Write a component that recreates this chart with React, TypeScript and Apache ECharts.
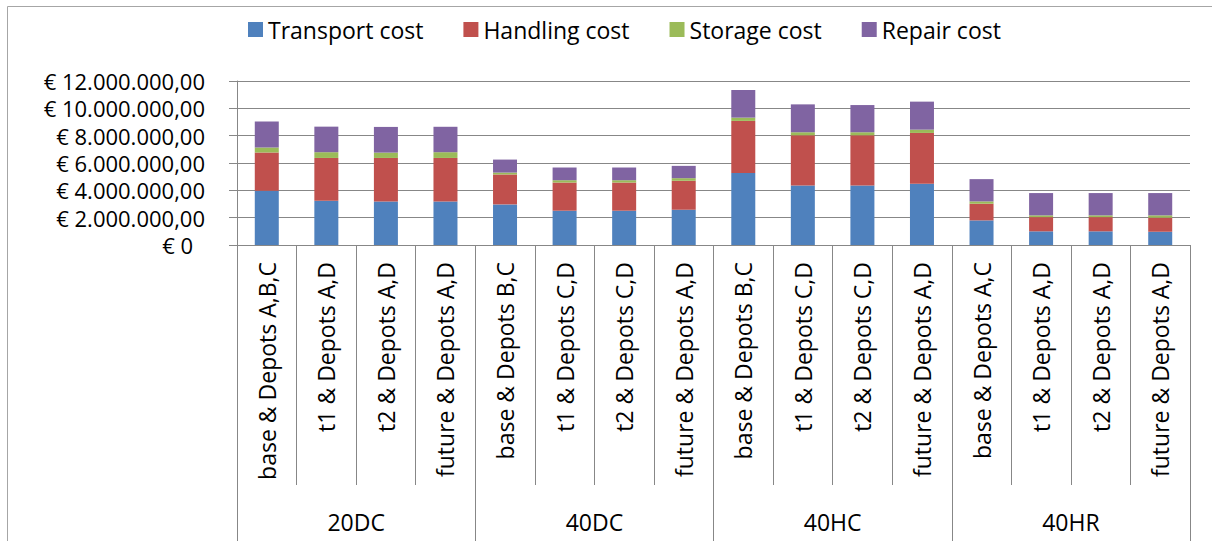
import React, { useEffect, useRef } from "react";
import * as echarts from "echarts";

const categories = [
  "base & Depots A,B,C", "t1 & Depots A,D", "t2 & Depots A,D", "future & Depots A,D",
  "base & Depots B,C", "t1 & Depots C,D", "t2 & Depots C,D", "future & Depots A,D",
  "base & Depots B,C", "t1 & Depots C,D", "t2 & Depots C,D", "future & Depots A,D",
  "base & Depots A,C", "t1 & Depots A,D", "t2 & Depots A,D", "future & Depots A,D",
];
const groups = ["20DC", "40DC", "40HC", "40HR"];

const transportCost = [3970000, 3240000, 3190000, 3190000, 2970000, 2510000, 2510000, 2580000, 5260000, 4360000, 4360000, 4480000, 1800000, 1000000, 1000000, 970000];
const handlingCost = [2790000, 3130000, 3180000, 3180000, 2190000, 2060000, 2060000, 2120000, 3820000, 3670000, 3670000, 3720000, 1220000, 1040000, 1040000, 1030000];
const storageCost = [370000, 420000, 390000, 420000, 140000, 170000, 170000, 190000, 240000, 220000, 220000, 240000, 170000, 130000, 130000, 170000];
const repairCost = [1900000, 1870000, 1880000, 1860000, 950000, 930000, 930000, 900000, 2020000, 2040000, 1990000, 2050000, 1630000, 1630000, 1630000, 1630000];

const seriesNames = ["Transport cost", "Handling cost", "Storage cost", "Repair cost"];
const seriesColors = ["#4F81BD", "#C0504D", "#9BBB59", "#8064A2"];

const FONT = "'Open Sans', sans-serif";
const AXIS_COLOR = "#878787";

function fmtEuro(v: number): string {
  if (v === 0) return "{z|€ 0}";
  const s = Math.round(v).toString();
  let out = "";
  for (let i = 0; i < s.length; i++) {
    if (i > 0 && (s.length - i) % 3 === 0) out += ".";
    out += s[i];
  }
  return "€ " + out + ",00";
}

export default function App() {
  const ref = useRef<HTMLDivElement>(null);
  useEffect(() => {
    if (!ref.current) return;
    const chart = echarts.init(ref.current, undefined, { renderer: "svg" });
    const data = [transportCost, handlingCost, storageCost, repairCost];
    chart.setOption({
      animation: false,
      textStyle: { fontFamily: FONT, color: "#000" },
      graphic: [
        {
          type: "rect",
          shape: { x: 7.5, y: 6.5, width: 1240, height: 600 },
          style: { fill: "none", stroke: "#a6a6a6", lineWidth: 1 },
          silent: true,
        },
      ],
      legend: {
        left: 243,
        top: 13,
        itemWidth: 15,
        itemHeight: 15,
        itemGap: 40,
        itemStyle: { borderWidth: 0 },
        icon: "rect",
        textStyle: { fontFamily: FONT, fontSize: 23, color: "#000" },
        data: seriesNames,
      },
      grid: { left: 237, right: 22, top: 81, bottom: 296, containLabel: false },
      xAxis: [
        {
          type: "category",
          data: categories,
          position: "bottom",
          axisLine: { show: true, lineStyle: { color: AXIS_COLOR, width: 1 } },
          axisTick: { show: true, length: 240, interval: 0, lineStyle: { color: AXIS_COLOR } },
          axisLabel: {
            interval: 0,
            rotate: 90,
            margin: 17,
            fontFamily: FONT,
            fontSize: 23,
            color: "#000",
          },
        },
        {
          type: "category",
          data: groups,
          position: "bottom",
          offset: 240,
          axisLine: { show: false },
          axisTick: { show: true, length: 60, interval: 0, lineStyle: { color: AXIS_COLOR } },
          axisLabel: { interval: 0, margin: 25, fontFamily: FONT, fontSize: 23, color: "#000" },
        },
      ],
      yAxis: {
        type: "value",
        min: 0,
        max: 12000000,
        interval: 2000000,
        axisLine: { show: true, lineStyle: { color: AXIS_COLOR } },
        axisTick: { show: true, length: 8, lineStyle: { color: AXIS_COLOR } },
        splitLine: { show: true, lineStyle: { color: AXIS_COLOR, width: 1 } },
        axisLabel: {
          formatter: fmtEuro,
          margin: 32,
          fontFamily: FONT,
          fontSize: 22,
          lineHeight: 22,
          color: "#000",
          rich: { z: { fontFamily: FONT, fontSize: 22, lineHeight: 22, color: "#000", padding: [0, 12, 0, 0] } },
        },
      },
      series: seriesNames.map((name, i) => ({
        name,
        type: "bar",
        stack: "total",
        barWidth: 24,
        xAxisIndex: 0,
        itemStyle: { color: seriesColors[i] },
        data: data[i],
      })),
    });
    return () => chart.dispose();
  }, []);
  return (
    <div
      ref={ref}
      style={{ position: "absolute", left: 0, top: 0, width: 1212, height: 541, background: "#fff" }}
    />
  );
}
